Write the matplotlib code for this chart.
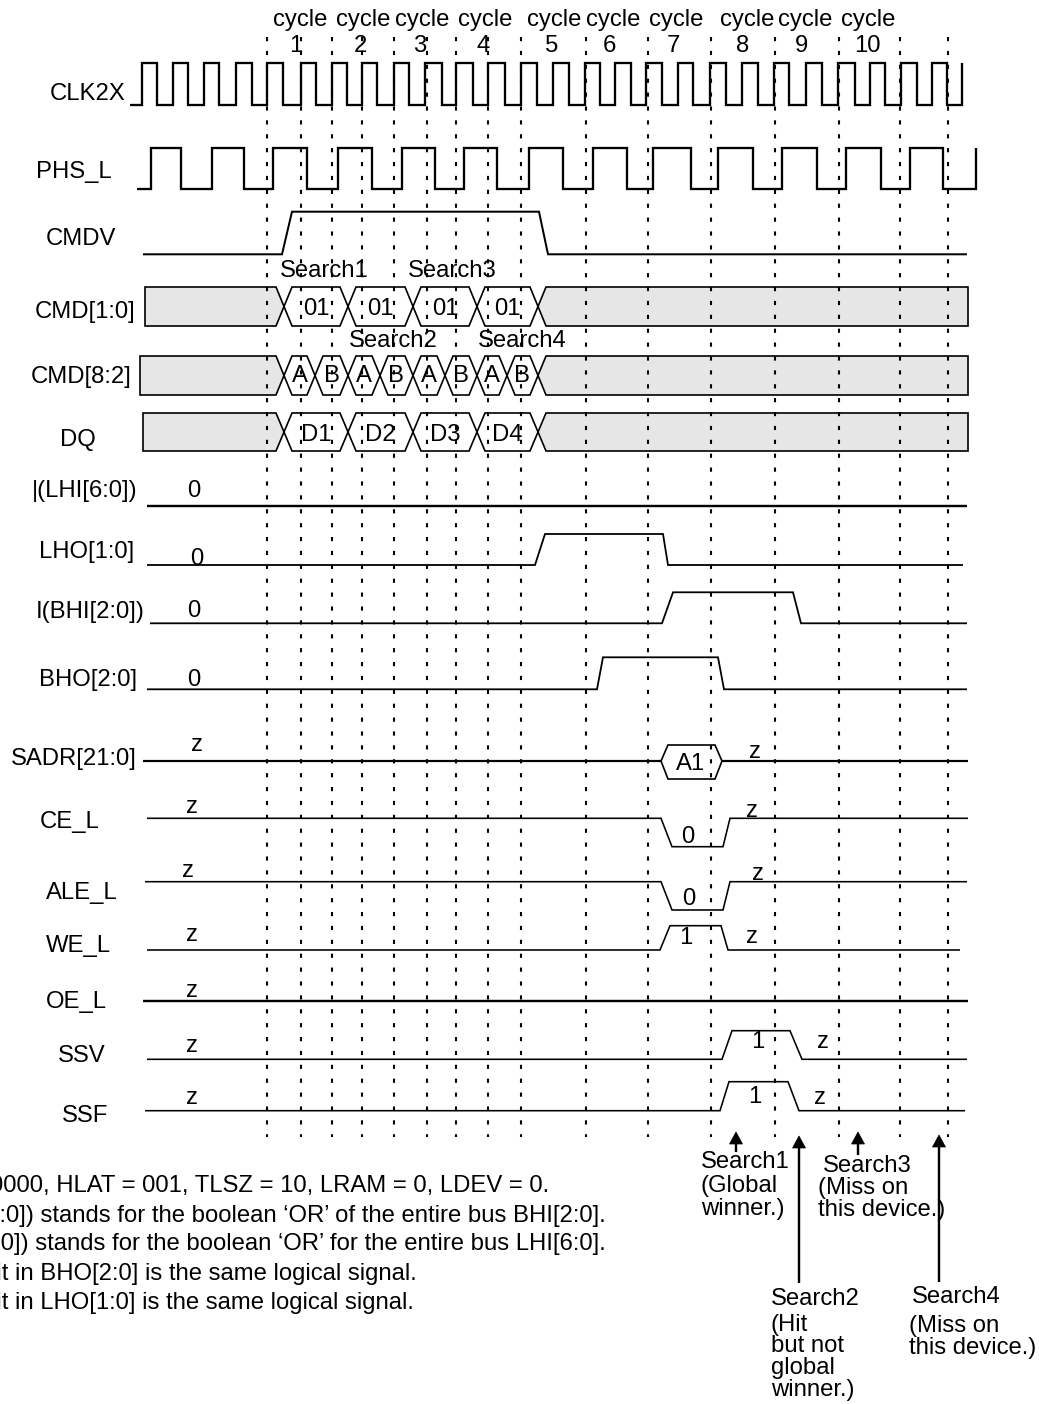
import matplotlib
matplotlib.use('Agg')
import matplotlib.pyplot as plt
from matplotlib.patches import Polygon

plt.rcParams['font.family'] = ['Liberation Sans', 'DejaVu Sans']
plt.rcParams['lines.scale_dashes'] = False
plt.rcParams['lines.solid_capstyle'] = 'butt'

# ------------------------------------------------------------------ data
# time axis is in drawing units (left -> right)
cycle_names = ['1', '2', '3', '4', '5', '6', '7', '8', '9', '10']
cycle_marks = [267, 301, 332, 362, 394, 427, 456, 488, 521, 586, 648, 711, 775, 839, 900, 948]

clk2x_rise = [142, 173, 204, 236, 267, 301, 332, 362, 394, 425, 456, 488, 521, 553,
              585, 615, 646, 678, 710, 742, 774, 806, 838, 870, 901, 932, 962]
clk2x_fall = [157, 188, 219, 252, 283, 316, 347, 377, 409, 442, 473, 505, 537, 569,
              600, 631, 662, 693, 726, 758, 789, 822, 855, 885, 917, 947]
phs_rise = [151, 212, 273, 338, 402, 464, 529, 593, 653, 718, 782, 846, 910, 976]
phs_fall = [181, 244, 307, 372, 435, 497, 563, 627, 691, 753, 817, 881, 943]

cmdv_t = [143, 282, 292, 539, 548, 967]
cmdv_v = [0, 0, 1, 1, 0, 0]

cmd10_t = [284, 348, 413, 477, 538]
cmd10_vals = ['01', '01', '01', '01']
cmd82_t = [284, 315, 348, 380, 413, 445, 477, 507, 538]
cmd82_vals = ['A', 'B', 'A', 'B', 'A', 'B', 'A', 'B']
dq_t = [284, 348, 413, 477, 538]
dq_vals = ['D1', 'D2', 'D3', 'D4']
search_names = ['Search1', 'Search2', 'Search3', 'Search4']

lhi_t = [147, 967]
lhi_v = [0, 0]
lho_t = [147, 535, 545, 663, 668, 963]
lho_v = [0, 0, 1, 1, 0, 0]
bhi_t = [150, 662, 673, 793, 801, 967]
bhi_v = [0, 0, 1, 1, 0, 0]
bho_t = [147, 597, 603, 718, 724, 967]
bho_v = [0, 0, 1, 1, 0, 0]

sadr_t = [143, 661, 722, 968]
sadr_vals = ['A1']
ce_t = [147, 661, 672, 723, 730, 968]
ce_v = [1, 1, 0, 0, 1, 1]
ale_t = [145, 661, 672, 723, 730, 967]
ale_v = [1, 1, 0, 0, 1, 1]
we_t = [147, 660, 670, 721, 728, 960]
we_v = [0, 0, 1, 1, 0, 0]
oe_t = [143, 968]
oe_v = [0, 0]
ssv_t = [147, 722, 732, 790, 802, 967]
ssv_v = [0, 0, 1, 1, 0, 0]
ssf_t = [145, 720, 729, 788, 799, 965]
ssf_v = [0, 0, 1, 1, 0, 0]

result_t = [736, 799, 858, 939]

notes = [
    "0000, HLAT = 001, TLSZ = 10, LRAM = 0, LDEV = 0.",
    "I(BHI[2:0]) stands for the boolean \u2018OR\u2019 of the entire bus BHI[2:0].",
    "|(LHI[6:0]) stands for the boolean \u2018OR\u2019 for the entire bus LHI[6:0].",
    "Each bit in BHO[2:0] is the same logical signal.",
    "Each bit in LHO[1:0] is the same logical signal.",
]

# ------------------------------------------------------------------ figure
W, H = 1039, 1404
fig = plt.figure(figsize=(W / 100, H / 100), dpi=100)
ax = fig.add_axes([0, 0, 1, 1])
ax.set_xlim(0, W)
ax.set_ylim(H, 0)
ax.axis('off')

FS = 17.2
GRAY = '#e6e6e6'
PX = 0.72  # points per pixel


def txt(x, y, s, ha='center', fs=FS):
    ax.text(x, y, s, ha=ha, va='baseline', fontsize=fs, color='black')


def clock(start, rises, falls, low, high, lw):
    ev = sorted([(t, 1) for t in rises] + [(t, 0) for t in falls])
    xs, ys, lev = [start], [low], 0
    for t, v in ev:
        xs += [t, t]
        ys += [low + lev * (high - low), low + v * (high - low)]
        lev = v
    ax.plot(xs, ys, color='black', lw=lw, solid_joinstyle='miter', zorder=3)


def wave(ts, vs, low, high, lw):
    ax.plot(ts, [low + v * (high - low) for v in vs], color='black', lw=lw,
            solid_joinstyle='miter', zorder=3)


def bus(start, end, ts, vals, top, bot, lw=1.2, h=8, label_dy=8):
    mid = (top + bot) / 2
    ax.add_patch(Polygon([(start, top), (ts[0] - h, top), (ts[0], mid), (ts[0] - h, bot), (start, bot)],
                         closed=True, fc=GRAY, ec='black', lw=lw, zorder=2))
    for i, v in enumerate(vals):
        a, b = ts[i], ts[i + 1]
        ax.add_patch(Polygon([(a, mid), (a + h, top), (b - h, top), (b, mid), (b - h, bot), (a + h, bot)],
                             closed=True, fc='white', ec='black', lw=lw, zorder=2))
        txt((a + b) / 2, mid + label_dy, v)
    ax.add_patch(Polygon([(ts[-1], mid), (ts[-1] + h, top), (end, top), (end, bot), (ts[-1] + h, bot)],
                         closed=True, fc=GRAY, ec='black', lw=lw, zorder=2))


# dotted cycle markers
for x in cycle_marks:
    ax.plot([x, x], [37, 1137], color='black', lw=1.5, linestyle=(0, (3, 7)), zorder=4)

# cycle header
cyc_x = [300, 363, 422, 485, 554, 613, 676, 747, 805, 868]
num_x = [296, 360, 420, 483, 552, 609, 673, 743, 802, 867]
for cx, nx, n in zip(cyc_x, num_x, cycle_names):
    txt(cx, 26, 'cycle')
    txt(nx, 52, n)

# row labels
labels = [('CLK2X', 88, 100), ('PHS_L', 74, 178), ('CMDV', 81, 245), ('CMD[1:0]', 85, 318),
          ('CMD[8:2]', 81, 383), ('DQ', 78, 446), ('|(LHI[6:0])', 85, 497), ('LHO[1:0]', 87, 558),
          ('I(BHI[2:0])', 90, 618), ('BHO[2:0]', 88, 686), ('SADR[21:0]', 74, 765),
          ('CE_L', 70, 828), ('ALE_L', 82, 899), ('WE_L', 78, 952), ('OE_L', 76, 1008),
          ('SSV', 82, 1062), ('SSF', 85, 1122)]
for s, x, y in labels:
    txt(x, y, s)

# clocks
clock(130, clk2x_rise, clk2x_fall, 104.7, 62.5, 2.3 * PX)
clock(137, phs_rise, phs_fall, 189, 148, 2.3 * PX)

# CMDV
wave(cmdv_t, cmdv_v, 254.3, 211.7, 2.0 * PX)

# buses
bus(145, 968, cmd10_t, cmd10_vals, 287, 326, label_dy=8.5)
bus(140, 968, cmd82_t, cmd82_vals, 356, 395, label_dy=6.5)
bus(143, 968, dq_t, dq_vals, 413, 451, label_dy=9)
txt(324, 277, search_names[0])
txt(452, 277, search_names[2])
txt(393, 347, search_names[1])
txt(522, 347, search_names[3])

# status signals
wave(lhi_t, lhi_v, 505.7, 505.7, 2.4 * PX)
txt(194, 497, '0')
wave(lho_t, lho_v, 565, 534, 1.8 * PX)
txt(197, 565, '0')
wave(bhi_t, bhi_v, 623.3, 592.3, 1.8 * PX)
txt(194, 617, '0')
wave(bho_t, bho_v, 689.3, 657.3, 1.8 * PX)
txt(194, 686, '0')

# SADR
sy, stop, sbot, sh = 761, 745, 779, 7
ax.plot([sadr_t[0], sadr_t[1]], [sy, sy], color='black', lw=2.2 * PX, zorder=3)
ax.plot([sadr_t[2], sadr_t[3]], [sy, sy], color='black', lw=2.2 * PX, zorder=3)
a, b = sadr_t[1], sadr_t[2]
ax.add_patch(Polygon([(a, sy), (a + sh, stop), (b - sh, stop), (b, sy), (b - sh, sbot), (a + sh, sbot)],
                     closed=True, fc='white', ec='black', lw=1.2, zorder=3))
txt(691, 770, sadr_vals[0])
txt(197, 751, 'z')
txt(755, 758, 'z')

# CE_L / ALE_L / WE_L / OE_L / SSV / SSF
wave(ce_t, ce_v, 846.7, 818.3, 1.6 * PX)
txt(192, 813, 'z'); txt(688, 843, '0'); txt(752, 817, 'z')
wave(ale_t, ale_v, 910, 881.7, 1.6 * PX)
txt(188, 877, 'z'); txt(689, 905, '0'); txt(758, 880, 'z')
wave(we_t, we_v, 950, 925.7, 1.6 * PX)
txt(192, 941, 'z'); txt(686, 944, '1'); txt(752, 943, 'z')
wave(oe_t, oe_v, 1001, 1001, 2.4 * PX)
txt(192, 997, 'z')
wave(ssv_t, ssv_v, 1059.3, 1030.7, 1.6 * PX)
txt(192, 1052, 'z'); txt(758, 1048, '1'); txt(823, 1048, 'z')
wave(ssf_t, ssf_v, 1110.7, 1081.7, 1.6 * PX)
txt(192, 1104, 'z'); txt(755, 1103, '1'); txt(820, 1104, 'z')

# result arrows
tips = [1132, 1136, 1132, 1135]
tails = [1152, 1283, 1155, 1282]
for x, tip, tail in zip(result_t, tips, tails):
    ax.plot([x, x], [tail, tip + 10], color='black', lw=2.4 * PX, zorder=5)
    ax.add_patch(Polygon([(x - 6.5, tip + 12), (x + 6.5, tip + 12), (x, tip)], closed=True,
                         fc='black', ec='black', lw=0.5, zorder=5))

# result annotations
for s, x, y in [(search_names[0], 701, 1168), ('(Global', 701, 1192), ('winner.)', 701, 1215),
                (search_names[2], 823, 1172), ('(Miss on', 818, 1194), ('this device.)', 818, 1216),
                (search_names[1], 771, 1305), ('(Hit', 771, 1331), ('but not', 771, 1352),
                ('global', 771, 1374), ('winner.)', 771, 1396),
                (search_names[3], 912, 1303), ('(Miss on', 909, 1332), ('this device.)', 909, 1354)]:
    txt(x, y, s, ha='left')

# notes (clipped at the left page edge, as in the source)
for s, xr, y in zip(notes, [549, 606, 606, 417, 414], [1192, 1222, 1250, 1280, 1309]):
    ax.text(xr, y, s, ha='right', va='baseline', fontsize=FS, color='black')

fig.savefig('out.png', dpi=100)
